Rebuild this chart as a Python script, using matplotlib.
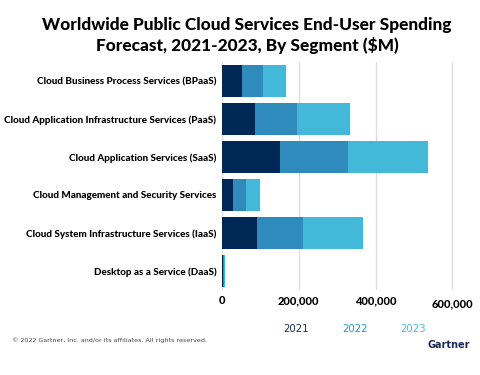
import numpy as np
import matplotlib.pyplot as plt

# segments, top to bottom as drawn
segments = ['Cloud Business Process Services (BPaaS)',
            'Cloud Application Infrastructure Services (PaaS)',
            'Cloud Application Services (SaaS)',
            'Cloud Management and Security Services',
            'Cloud System Infrastructure Services (IaaS)',
            'Desktop as a Service (DaaS)']
spend_2021 = [51410, 86943, 152184, 28478, 90894, 2097]
spend_2022 = [55598, 109623, 176622, 33373, 119717, 2615]
spend_2023 = [60619, 136404, 208080, 38202, 156276, 3121]
years = ['2021', '2022', '2023']
xticks = [0, 200000, 400000, 600000]
xtick_labels = ['0', '200,000', '400,000', '600,000']

colors = ['#002856', '#2e8bbc', '#44b8d8']
legend_colors = ['#1b2a55', '#1f9ad6', '#44c0e0']

fig = plt.figure(figsize=(4.8, 3.75), dpi=100)
ax = fig.add_axes([0.4625, 0.227, 0.52, 0.608])

y = np.arange(len(segments))
left = np.zeros(len(segments))
for vals, c in zip([spend_2021, spend_2022, spend_2023], colors):
    ax.barh(y, vals, left=left, height=0.85, color=c, zorder=3)
    left = left + np.array(vals)

ax.set_ylim(len(segments) - 0.5, -0.5)
ax.set_xlim(0, 650000)
ax.set_yticks(y)
ax.set_yticklabels(segments, fontsize=7.15, fontweight='black', family='Lato')
ax.set_xticks(xticks)
ax.set_xticklabels(xtick_labels, fontsize=8, fontweight='black', family='Lato')
ax.tick_params(length=0, pad=4)
ax.grid(axis='x', color='#dddddd', linewidth=0.9, zorder=0)
for s in ax.spines.values():
    s.set_visible(False)

# the last tick label sits a bit lower and to the right
last = ax.get_xticklabels()[-1]
last.set_x(630000)
last.set_y(-0.012)

fig.text(0.515, 0.955, 'Worldwide Public Cloud Services End-User Spending\nForecast, 2021-2023, By Segment ($M)',
         ha='center', va='top', fontsize=12.4, fontweight='black', family='Lato', linespacing=1.3)

for i, (yr, c) in enumerate(zip(years, legend_colors)):
    fig.text(0.617 + i * 0.122, 0.122, yr, ha='center', va='center', fontsize=7.3, color=c)

fig.text(0.025, 0.093, '\u00a9 2022 Gartner, Inc. and/or its affiliates. All rights reserved.',
         ha='left', va='center', fontsize=4.6, color='#444444')
fig.text(0.98, 0.08, 'Gartner', ha='right', va='center', fontsize=7, fontweight='bold', color='#1b2a55')

plt.savefig('out.png', dpi=100)
